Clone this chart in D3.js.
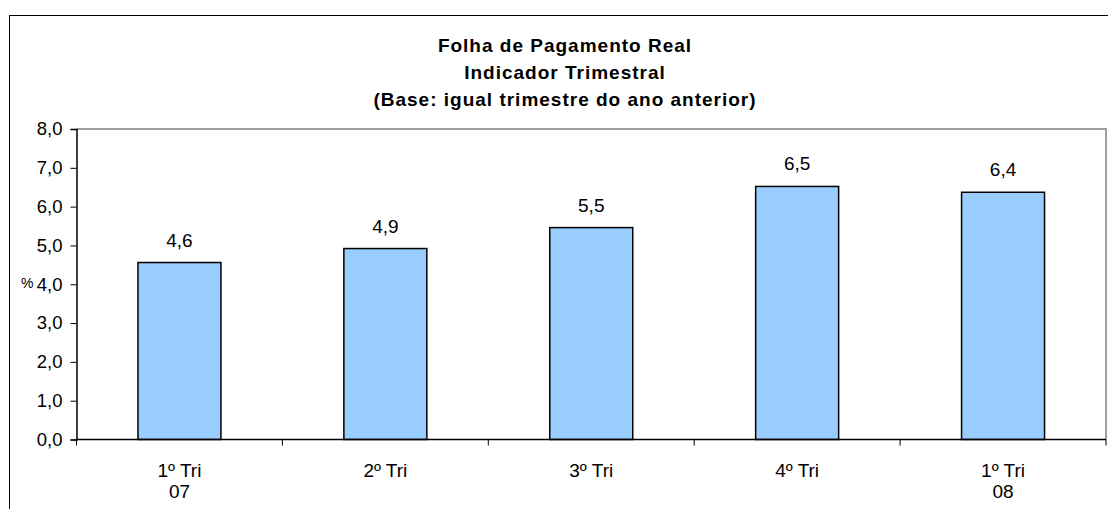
<!DOCTYPE html>
<html><head><meta charset="utf-8">
<script src="https://cdn.jsdelivr.net/npm/d3@7"></script>
<style>body{margin:0;background:#fff}svg{display:block;font-family:"Liberation Sans",Arial,sans-serif}</style>
</head><body><svg id="c" width="1108" height="509"></svg>
<script>
const categories = ["1º Tri|07","2º Tri","3º Tri","4º Tri","1º Tri|08"];
const values = [4.56, 4.92, 5.46, 6.52, 6.37];
const yTicks = [0,1,2,3,4,5,6,7,8];
const titleLines = ["Folha de Pagamento Real","Indicador Trimestral","(Base: igual trimestre do ano anterior)"];

const svg = d3.select("#c");
const fmt = v => d3.format(".1f")(v).replace(".", ",");
const L = 76.5, R = 1106, T = 129, B = 439.5;

svg.append("rect").attr("x",9.5).attr("y",15.5).attr("width",1110).attr("height",520)
  .attr("fill","none").attr("stroke","#000").attr("stroke-width",1);

const x = d3.scaleBand().domain(categories).range([L,R]).paddingInner(0.597).paddingOuter(0.2985);
const y = d3.scaleLinear().domain([0,8]).range([B,T]);

svg.append("path").attr("d",`M${L},${T}H${R}V${B}`).attr("fill","none").attr("stroke","#808080").attr("stroke-width",1.5);

svg.selectAll("rect.bar").data(values).join("rect").attr("class","bar")
  .attr("x",(d,i)=>x(categories[i])).attr("width",x.bandwidth())
  .attr("y",d=>y(d)).attr("height",d=>B-y(d))
  .attr("fill","#99CCFF").attr("stroke","#000").attr("stroke-width",1.5);

svg.selectAll("text.val").data(values).join("text").attr("class","val")
  .attr("x",(d,i)=>x(categories[i])+x.bandwidth()/2).attr("y",d=>y(d)-16)
  .attr("text-anchor","middle").style("font-size","19px").text(fmt);

const ya = svg.append("g").attr("transform",`translate(${L},0)`)
  .call(d3.axisLeft(y).tickValues(yTicks).tickFormat(fmt).tickSizeOuter(0).tickSize(6).tickPadding(8));
ya.attr("font-size",null).attr("font-family",null);
ya.select(".domain").attr("stroke","#000").attr("stroke-width",1.5);
ya.selectAll("text").style("font-size","18.5px").attr("fill","#000");

svg.append("line").attr("x1",L).attr("x2",R).attr("y1",B).attr("y2",B).attr("stroke","#000").attr("stroke-width",1.5);
const bounds = d3.range(categories.length+1).map(i=> L + i*(R-L)/categories.length);
svg.selectAll("line.xt").data(bounds).join("line").attr("class","xt")
  .attr("x1",d=>d).attr("x2",d=>d).attr("y1",B).attr("y2",B+6).attr("stroke","#000").attr("stroke-width",1);

const xl = svg.selectAll("text.xl").data(categories).join("text").attr("class","xl")
  .attr("x",d=>x(d)+x.bandwidth()/2).attr("y",476.5).attr("text-anchor","middle").style("font-size","19px");
xl.each(function(d){
  const parts = d.split("|");
  const t = d3.select(this);
  parts.forEach((p,i)=>t.append("tspan").attr("x",t.attr("x")).attr("dy",i?21.5:0).text(p));
});

svg.append("text").attr("x",21).attr("y",288).style("font-size","14px").text("%");

svg.selectAll("text.title").data(titleLines).join("text").attr("class","title")
  .attr("x",565).attr("y",(d,i)=>52+i*27).attr("text-anchor","middle")
  .attr("font-weight","bold").style("font-size","19px").style("letter-spacing","1px").text(d=>d);
</script></body></html>
